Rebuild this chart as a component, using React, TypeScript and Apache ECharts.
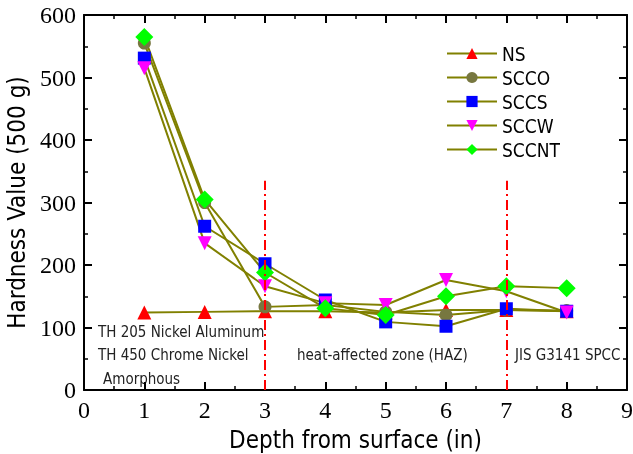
import React, { useEffect, useRef } from "react";
import * as echarts from "echarts";

const depths = [1, 2, 3, 4, 5, 6, 7, 8];
const NS = [124, 125, 126, 126, 124, 128, 128, 126];
const SCCO = [555, 300, 133, 136, 125, 120, 128, 127];
const SCCS = [531, 262, 202, 144, 109, 102, 130, 126];
const SCCW = [515, 235, 166, 139, 136, 176, 158, 124];
const SCCNT = [565, 305, 188, 131, 120, 150, 166, 163];
const dividers = [3, 7];
const dividerTop = 335;
const annotations = [
  { text: "TH 205 Nickel Aluminum", x: 98, y: 333 },
  { text: "TH 450 Chrome Nickel", x: 98, y: 356 },
  { text: "Amorphous", x: 103, y: 380 },
  { text: "heat-affected zone (HAZ)", x: 297, y: 356 },
  { text: "JIS G3141 SPCC", x: 515, y: 356 },
];

const OLIVE = "#808000";
const SANS = "'DejaVu Sans Condensed', 'DejaVu Sans', sans-serif";
const downTri = "path://M0,0 L10,0 L5,9 Z";

export default function App() {
  const ref = useRef<HTMLDivElement>(null);
  useEffect(() => {
    const chart = echarts.init(ref.current!, null, { renderer: "svg" });
    const mk = (name: string, data: number[], symbol: string, color: string, size: number) => ({
      name,
      type: "line",
      data: depths.map((d, i) => [d, data[i]]),
      symbol,
      symbolSize: size,
      itemStyle: { color },
      lineStyle: { color: OLIVE, width: 2 },
    });
    const axisCommon = {
      min: 0,
      axisLine: { onZero: false, lineStyle: { color: "#000", width: 2 } },
      axisTick: { inside: true, length: 8, lineStyle: { color: "#000", width: 2 } },
      minorTick: { show: true, splitNumber: 2, length: 4, lineStyle: { color: "#000", width: 1.5 } },
      splitLine: { show: false },
    };
    const series: any[] = [
      mk("NS", NS, "triangle", "#ff0000", 14),
      mk("SCCO", SCCO, "circle", "#777740", 13),
      mk("SCCS", SCCS, "rect", "#0000ff", 13),
      mk("SCCW", SCCW, downTri, "#ff00ff", 14),
      mk("SCCNT", SCCNT, "diamond", "#00ff00", 18),
    ];
    series[0].markLine = {
      silent: true,
      symbol: "none",
      label: { show: false },
      lineStyle: { color: "#ff0000", width: 2, type: [10, 4, 2, 4] },
      data: dividers.map((d) => [{ coord: [d, 0] }, { coord: [d, dividerTop] }]),
    };
    chart.setOption({
      animation: false,
      grid: { left: 84, top: 15, width: 543, height: 375, outerBoundsMode: "none", containLabel: false },
      legend: {
        orient: "vertical",
        left: 441,
        top: 39,
        itemWidth: 50,
        itemHeight: 14,
        itemGap: 5,
        textStyle: { fontSize: 19, fontFamily: SANS, color: "#000" },
        data: ["NS", "SCCO", "SCCS", "SCCW", "SCCNT"],
      },
      xAxis: [
        {
          ...axisCommon,
          type: "value",
          max: 9,
          interval: 1,
          position: "bottom",
          name: "Depth from surface (in)",
          nameLocation: "middle",
          nameGap: 38,
          nameTextStyle: { fontSize: 24, fontFamily: SANS, color: "#000" },
          axisLabel: { fontSize: 24, fontFamily: "Liberation Serif", color: "#000", margin: 8 },
        },
        {
          ...axisCommon,
          type: "value",
          max: 9,
          interval: 1,
          position: "top",
          axisLabel: { show: false },
        },
      ],
      yAxis: [
        {
          ...axisCommon,
          type: "value",
          max: 600,
          interval: 100,
          position: "left",
          name: "Hardness Value (500 g)",
          nameLocation: "middle",
          nameGap: 52,
          nameTextStyle: { fontSize: 24, fontFamily: SANS, color: "#000" },
          axisLabel: { fontSize: 24, fontFamily: "Liberation Serif", color: "#000", margin: 8 },
        },
        {
          ...axisCommon,
          type: "value",
          max: 600,
          interval: 100,
          position: "right",
          axisLabel: { show: false },
        },
      ],
      graphic: annotations.map((a) => ({
        type: "text",
        left: a.x,
        top: a.y - 9,
        silent: true,
        style: { text: a.text, fontSize: 15, fontFamily: SANS, fill: "#222" },
      })),
      series,
    });
    return () => chart.dispose();
  }, []);
  return (
    <div
      ref={ref}
      style={{ position: "fixed", left: 0, top: 0, width: 633, height: 454 }}
    />
  );
}
